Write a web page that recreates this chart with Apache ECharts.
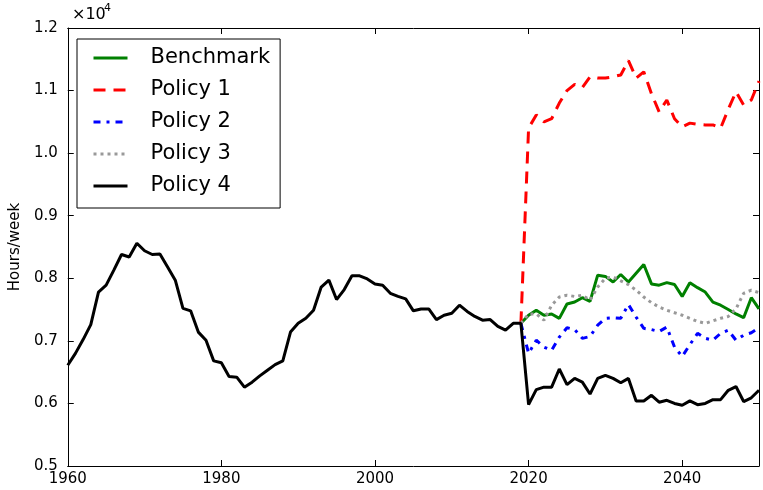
<!DOCTYPE html>
<html><head><meta charset="utf-8">
<script src="https://cdn.jsdelivr.net/npm/echarts@6/dist/echarts.min.js"></script>
<style>html,body{margin:0;padding:0;background:#fff}#c{width:763px;height:490px}</style>
</head><body><div id="c"></div>
<script>
// Historical hours/week, 1960..2019
const histStart = 1960;
const historical = [
  6610, 6800, 7020, 7260, 7780, 7890, 8130, 8380, 8340, 8560,
  8440, 8380, 8390, 8180, 7970, 7520, 7480, 7140, 7010, 6680,
  6650, 6430, 6420, 6260, 6340, 6440, 6530, 6620, 6680, 7140,
  7280, 7360, 7490, 7860, 7970, 7660, 7820, 8040, 8040, 7990,
  7910, 7890, 7760, 7710, 7670, 7480, 7510, 7510, 7340, 7410,
  7440, 7570, 7470, 7390, 7330, 7340, 7230, 7170, 7280, 7280
];
// Projections 2020..2050
const projStart = 2020;
const benchmark = [7410, 7490, 7410, 7430, 7360, 7590, 7620, 7690, 7630, 8050, 8030, 7940, 8060, 7940, 8080, 8220, 7910, 7890, 7930, 7900, 7710, 7930, 7850, 7780, 7620, 7570, 7500, 7430, 7370, 7690, 7510];
const policy1 = [10400, 10610, 10500, 10550, 10800, 11000, 11100, 11050, 11220, 11200, 11200, 11220, 11250, 11480, 11200, 11300, 10950, 10660, 10850, 10550, 10420, 10480, 10460, 10450, 10450, 10400, 10700, 10980, 10770, 10850, 11150];
const policy2 = [6800, 7010, 6900, 6850, 7060, 7210, 7180, 7040, 7070, 7250, 7360, 7370, 7360, 7580, 7380, 7200, 7180, 7150, 7220, 6900, 6750, 6940, 7120, 7040, 7010, 7120, 7170, 7010, 7090, 7130, 7210];
const policy3 = [7430, 7430, 7330, 7570, 7700, 7730, 7710, 7730, 7650, 7860, 8000, 8020, 7960, 7900, 7810, 7700, 7610, 7540, 7490, 7450, 7410, 7360, 7310, 7280, 7320, 7360, 7390, 7510, 7760, 7810, 7770];
const policy4 = [5980, 6220, 6260, 6260, 6550, 6300, 6400, 6340, 6150, 6400, 6450, 6400, 6330, 6400, 6040, 6040, 6130, 6020, 6050, 6000, 5970, 6040, 5980, 6000, 6060, 6060, 6210, 6270, 6030, 6090, 6210];
const yTicks = [0.5, 0.6, 0.7, 0.8, 0.9, 1.0, 1.1, 1.2];
const xTicks = [1960, 1980, 2000, 2020, 2040];

const histPairs = historical.map((v, i) => [histStart + i, v]);
const lastHist = histPairs[histPairs.length - 1];
const proj = arr => [lastHist].concat(arr.map((v, i) => [projStart + i, v]));

const FONT = 'DejaVu Sans';
const chart = echarts.init(document.getElementById('c'));
const axisCommon = {
  axisLine: {show: true, onZero: false, lineStyle: {color: '#000', width: 1}},
  axisTick: {show: true, inside: true, length: 6, lineStyle: {color: '#000', width: 1}},
  splitLine: {show: false}
};
const xBase = Object.assign({type: 'value', min: 1960, max: 2050, interval: 20}, axisCommon);
const yBase = Object.assign({type: 'value', min: 5000, max: 12000, interval: 1000}, axisCommon);

chart.setOption({
  animation: false,
  backgroundColor: '#fff',
  grid: {left: 66, right: 4, top: 28, bottom: 24, containLabel: false},
  xAxis: [
    Object.assign({}, xBase, {position: 'bottom',
      axisLabel: {color: '#000', fontFamily: FONT, fontSize: 15, margin: 6, showMaxLabel: false,
        formatter: v => (xTicks.indexOf(v) >= 0 ? String(v) : '')}}),
    Object.assign({}, xBase, {position: 'top', axisLabel: {show: false}})
  ],
  yAxis: [
    Object.assign({}, yBase, {position: 'left',
      name: 'Hours/week', nameLocation: 'middle', nameRotate: 90, nameGap: 43,
      nameTextStyle: {color: '#000', fontFamily: FONT, fontSize: 15},
      axisLabel: {color: '#000', fontFamily: FONT, fontSize: 15, margin: 10,
        formatter: v => (v / 10000).toFixed(1)}}),
    Object.assign({}, yBase, {position: 'right', axisLabel: {show: false}})
  ],
  legend: {
    left: 77, top: 39, orient: 'vertical',
    itemWidth: 34, itemHeight: 14, itemGap: 8,
    padding: [7, 10, 10, 15],
    borderColor: '#000', borderWidth: 1, borderRadius: 0, backgroundColor: '#fff',
    itemStyle: {opacity: 0, borderWidth: 0},
    lineStyle: {width: 3},
    textStyle: {fontFamily: FONT, fontSize: 21, color: '#000', lineHeight: 24, padding: [0, 0, 0, 18]},
    data: ['Benchmark', 'Policy 1', 'Policy 2', 'Policy 3', 'Policy 4']
  },
  graphic: [
    {type: 'text', left: 72, top: 7, style: {text: '×10', font: '16px "DejaVu Sans"', fill: '#000'}},
    {type: 'text', left: 104, top: 3, style: {text: '4', font: '11px "DejaVu Sans"', fill: '#000'}}
  ],
  series: [
    {name: 'Benchmark', type: 'line', symbol: 'none', data: proj(benchmark),
      lineStyle: {color: '#008000', width: 3}, itemStyle: {color: '#008000'}},
    {name: 'Policy 1', type: 'line', symbol: 'none', data: proj(policy1),
      lineStyle: {color: '#ff0000', width: 3, type: [12, 8]}, itemStyle: {color: '#ff0000'}},
    {name: 'Policy 2', type: 'line', symbol: 'none', data: proj(policy2),
      lineStyle: {color: '#0000ff', width: 3, type: [7, 6, 3, 6]}, itemStyle: {color: '#0000ff'}},
    {name: 'Policy 3', type: 'line', symbol: 'none', data: proj(policy3),
      lineStyle: {color: '#999999', width: 3, type: [3, 4]}, itemStyle: {color: '#999999'}},
    {name: 'Policy 4', type: 'line', symbol: 'none', data: histPairs.concat(policy4.map((v, i) => [projStart + i, v])),
      lineStyle: {color: '#000000', width: 3}, itemStyle: {color: '#000000'}}
  ]
});
</script>
</body></html>
